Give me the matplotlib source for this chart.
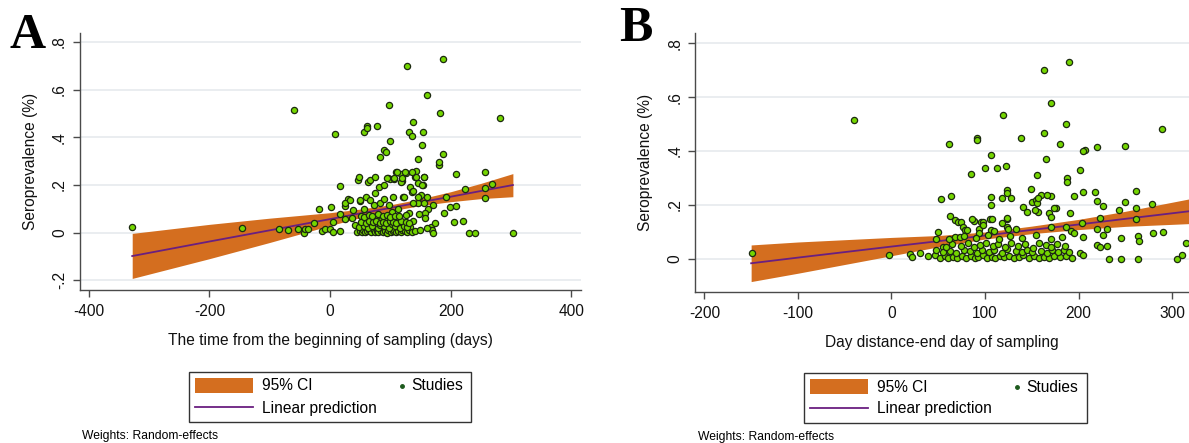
import matplotlib.pyplot as plt
from matplotlib.patches import Rectangle
from matplotlib.lines import Line2D

W, H = 1189, 443

# panel A: time from the beginning of sampling (days), seroprevalence
studies_a = [
    (-328, 0.022), (-146, 0.020), (-84, 0.017), (-70, 0.011), (-60, 0.515), (-54, 0.014),
    (-44, 0.0), (-41, 0.017), (-36, 0.017), (-27, 0.039), (-18, 0.100), (-14, 0.008),
    (-9, 0.017), (1, 0.106), (0, 0.017), (4, 0.003), (5, 0.046), (8, 0.413), (16, 0.197),
    (16, 0.078), (16, 0.008), (25, 0.113), (25, 0.056), (30, 0.143), (46, 0.221), (48, 0.232),
    (50, 0.131), (56, 0.424), (61, 0.448), (61, 0.438), (63, 0.214), (66, 0.221), (75, 0.235),
    (78, 0.448), (83, 0.316), (89, 0.347), (92, 0.337), (97, 0.536), (100, 0.386), (81, 0.193),
    (89, 0.200), (96, 0.231), (100, 0.225), (106, 0.225), (110, 0.255), (118, 0.246),
    (119, 0.217), (125, 0.249), (127, 0.700), (130, 0.421), (135, 0.406), (138, 0.464),
    (146, 0.310), (143, 0.260), (141, 0.235), (146, 0.207), (154, 0.424), (153, 0.369),
    (156, 0.235), (154, 0.199), (160, 0.579), (180, 0.285), (181, 0.298), (183, 0.502),
    (187, 0.331), (187, 0.730), (192, 0.151), (189, 0.084), (199, 0.106), (206, 0.043),
    (209, 0.246), (209, 0.113), (220, 0.049), (224, 0.182), (230, 0.0), (240, 0.0),
    (256, 0.255), (256, 0.187), (256, 0.145), (268, 0.204), (282, 0.481), (303, 0.0),
    (148, 0.151), (150, 0.160), (170, 0.115), (162, 0.100), (157, 0.081), (167, 0.022),
    (169, 0.011), (170, 0.0), (174, 0.042), (146, 0.126),
    (25, 0.123), (33, 0.137), (38, 0.095), (37, 0.062), (41, 0.032), (49, 0.137), (51, 0.072),
    (52, 0.025), (57, 0.098), (60, 0.151), (61, 0.060), (66, 0.137), (67, 0.030), (72, 0.116),
    (75, 0.168), (78, 0.060), (83, 0.125), (85, 0.054), (90, 0.141), (92, 0.060), (98, 0.116),
    (102, 0.087), (111, 0.060), (113, 0.100), (117, 0.213), (120, 0.228), (121, 0.150),
    (122, 0.040), (130, 0.081), (132, 0.190), (135, 0.170), (137, 0.123), (138, 0.050),
    (142, 0.235), (145, 0.151), (148, 0.080), (152, 0.200), (155, 0.235), (156, 0.123),
    (158, 0.060), (161, 0.151), (104, 0.151), (123, 0.151), (137, 0.176), (94, 0.230),
    (106, 0.230), (111, 0.255), (124, 0.255), (136, 0.255),
    (45, 0.002), (50, 0.008), (53, 0.004), (55, 0.013), (58, 0.001), (62, 0.006), (65, 0.010),
    (68, 0.002), (72, 0.011), (74, 0.004), (77, 0.008), (80, 0.001), (84, 0.006), (86, 0.023),
    (88, 0.003), (91, 0.009), (94, 0.0), (96, 0.012), (99, 0.025), (101, 0.004), (104, 0.008),
    (106, 0.011), (109, 0.002), (112, 0.007), (114, 0.025), (117, 0.003), (120, 0.010),
    (124, 0.005), (127, 0.004), (130, 0.012), (133, 0.025), (136, 0.003), (140, 0.008),
    (149, 0.011), (160, 0.020),
    (48, 0.022), (57, 0.030), (63, 0.020), (70, 0.028), (79, 0.018), (83, 0.033), (90, 0.030),
    (97, 0.020), (103, 0.035), (108, 0.028), (116, 0.018), (122, 0.030), (128, 0.022),
    (52, 0.045), (59, 0.040), (64, 0.048), (71, 0.043), (76, 0.050), (82, 0.040), (88, 0.046),
    (93, 0.041), (99, 0.048), (105, 0.045), (110, 0.040), (118, 0.048), (126, 0.044),
    (131, 0.041),
    (56, 0.065), (64, 0.075), (70, 0.068), (80, 0.078), (87, 0.070), (95, 0.075), (100, 0.065),
    (107, 0.072), (115, 0.068), (126, 0.075),
]
fit_days_a = [-328, -200, -100, 0, 50, 100, 150, 200, 250, 303]
fit_a = [-0.098, -0.037, 0.010, 0.057, 0.081, 0.104, 0.128, 0.151, 0.175, 0.200]
ci_lo_a = [-0.192, -0.109, -0.041, 0.030, 0.063, 0.091, 0.114, 0.130, 0.143, 0.151]
ci_hi_a = [-0.003, 0.035, 0.061, 0.084, 0.099, 0.117, 0.142, 0.172, 0.207, 0.248]

# panel B: day distance to the end day of sampling, seroprevalence
studies_b = [
    (-149, 0.022), (-40, 0.514), (-3, 0.012), (20, 0.017), (22, 0.005), (30, 0.020), (39, 0.010),
    (46, 0.014), (48, 0.032), (48, 0.074), (50, 0.100), (53, 0.220), (55, 0.045), (62, 0.425),
    (64, 0.233), (63, 0.158), (68, 0.143), (71, 0.138), (74, 0.137), (76, 0.118), (79, 0.108),
    (81, 0.108), (68, 0.080), (73, 0.079), (85, 0.315), (88, 0.141), (91, 0.450), (91, 0.441),
    (94, 0.109), (94, 0.094), (96, 0.138), (98, 0.136), (98, 0.124), (100, 0.337), (106, 0.230),
    (106, 0.385), (106, 0.198), (105, 0.146), (106, 0.106), (110, 0.104), (119, 0.535),
    (122, 0.344), (118, 0.225), (123, 0.254), (124, 0.243), (128, 0.225), (118, 0.134),
    (123, 0.149), (123, 0.117), (125, 0.111), (133, 0.111), (138, 0.448), (141, 0.193),
    (149, 0.260), (150, 0.211), (154, 0.218), (156, 0.205), (156, 0.310), (157, 0.175),
    (163, 0.700), (163, 0.466), (165, 0.370), (160, 0.237), (157, 0.224), (171, 0.580),
    (170, 0.233), (168, 0.169), (170, 0.156), (170, 0.117), (176, 0.187), (180, 0.426),
    (187, 0.500), (190, 0.730), (188, 0.298), (188, 0.284), (191, 0.168), (187, 0.117),
    (192, 0.104), (195, 0.094), (195, 0.234), (201, 0.330), (205, 0.249), (207, 0.404),
    (204, 0.131), (205, 0.079), (201, 0.020), (205, 0.013), (217, 0.246), (220, 0.414),
    (220, 0.214), (226, 0.196), (223, 0.150), (220, 0.112), (230, 0.109), (226, 0.088),
    (220, 0.051), (223, 0.042), (230, 0.047), (232, 0.0), (243, 0.180), (245, 0.078),
    (245, 0.0), (250, 0.420), (250, 0.210), (261, 0.253), (261, 0.187), (261, 0.146),
    (263, 0.084), (265, 0.067), (264, 0.0), (278, 0.204), (279, 0.097), (289, 0.482),
    (290, 0.100), (305, 0.0), (311, 0.012), (315, 0.058), (113, 0.338), (205, 0.400),
    (166, 0.236), (174, 0.190), (145, 0.175), (153, 0.180), (124, 0.150), (107, 0.147),
    (86, 0.146),
    (52, 0.004), (57, 0.010), (60, 0.002), (66, 0.008), (70, 0.001), (75, 0.011), (80, 0.004),
    (85, 0.009), (89, 0.001), (93, 0.006), (98, 0.012), (102, 0.003), (107, 0.008),
    (111, 0.002), (116, 0.011), (120, 0.005), (126, 0.009), (131, 0.002), (136, 0.007),
    (141, 0.012), (147, 0.004), (152, 0.010), (158, 0.002), (163, 0.008), (168, 0.003),
    (174, 0.011), (180, 0.005), (186, 0.009), (193, 0.003),
    (55, 0.025), (63, 0.030), (69, 0.022), (78, 0.033), (84, 0.027), (91, 0.021), (97, 0.034),
    (104, 0.026), (110, 0.031), (118, 0.022), (124, 0.035), (133, 0.027), (139, 0.023),
    (145, 0.033), (150, 0.025), (160, 0.030), (166, 0.021), (172, 0.034), (178, 0.026),
    (184, 0.031), (190, 0.024),
    (58, 0.045), (65, 0.055), (74, 0.048), (82, 0.058), (88, 0.042), (95, 0.052), (101, 0.060),
    (108, 0.046), (114, 0.055), (121, 0.043), (128, 0.058), (135, 0.047), (143, 0.053),
    (151, 0.041), (158, 0.057), (165, 0.049), (171, 0.044), (177, 0.056), (185, 0.047),
    (62, 0.072), (77, 0.085), (90, 0.078), (103, 0.088), (115, 0.074), (127, 0.083),
    (140, 0.076), (155, 0.087), (170, 0.072), (182, 0.081),
]
fit_days_b = [-150, -100, 0, 50, 100, 150, 200, 250, 330]
fit_b = [-0.017, 0.004, 0.045, 0.065, 0.086, 0.107, 0.127, 0.148, 0.181]
ci_lo_b = [-0.085, -0.054, 0.011, 0.044, 0.073, 0.093, 0.108, 0.120, 0.132]
ci_hi_b = [0.051, 0.062, 0.079, 0.086, 0.099, 0.121, 0.146, 0.176, 0.230]

yticks_a = [-0.2, 0, 0.2, 0.4, 0.6, 0.8]
ytick_labels_a = ['-.2', '0', '.2', '.4', '.6', '.8']
yticks_b = [0, 0.2, 0.4, 0.6, 0.8]
ytick_labels_b = ['0', '.2', '.4', '.6', '.8']
xticks_a = [-400, -200, 0, 200, 400]
xticks_b = [-200, -100, 0, 100, 200, 300]

CI_COL = '#d46e1f'
LINE_COL = '#6a1f80'
DOT_FACE = '#74d600'
DOT_EDGE = '#1c2a10'
AX_COL = '#4a4a4a'
GRID_COL = '#e6eaee'
FS = 11.2

plt.rcParams['font.family'] = ['Liberation Sans', 'DejaVu Sans']
plt.rcParams['axes.unicode_minus'] = False

fig = plt.figure(figsize=(W / 100, H / 100), dpi=100)


def px_box(x0, y0, x1, y1):  # pixel box (top-left origin) -> figure fraction rect
    return [x0 / W, 1 - y1 / H, (x1 - x0) / W, (y1 - y0) / H]


def fx(x):
    return x / W


def fy(y):
    return 1 - y / H


def panel(rect, studies, fit_days, fit, lo, hi, xlim, ylim, xticks, yticks, ylabels, xlabel, ylab_x):
    ax = fig.add_axes(rect)
    ax.set_xlim(*xlim)
    ax.set_ylim(*ylim)
    for t in yticks:
        ax.axhline(t, color=GRID_COL, lw=1.2, zorder=0)
    ax.fill_between(fit_days, lo, hi, color=CI_COL, lw=0, zorder=1)
    ax.plot(fit_days, fit, color=LINE_COL, lw=1.3, zorder=2)
    xs = [p[0] for p in studies]
    ys = [p[1] for p in studies]
    ax.scatter(xs, ys, s=20, c=DOT_FACE, edgecolors=DOT_EDGE, linewidths=0.9, zorder=3)
    for s in ['top', 'right']:
        ax.spines[s].set_visible(False)
    for s in ['left', 'bottom']:
        ax.spines[s].set_color(AX_COL)
        ax.spines[s].set_linewidth(1.0)
    ax.set_xticks(xticks)
    ax.set_yticks(yticks)
    ax.set_yticklabels(ylabels, rotation=90, va='center')
    ax.tick_params(axis='both', length=5, width=1, color=AX_COL, labelsize=FS, labelcolor='#111111')
    ax.tick_params(axis='y', pad=4)
    ax.tick_params(axis='x', pad=5)
    ax.set_xlabel(xlabel, fontsize=FS, color='#111111')
    ax.xaxis.set_label_coords(0.5, -0.195)
    ax.xaxis.label.set_va('center')
    ax.set_ylabel('Seroprevalence (%)', fontsize=FS, color='#111111')
    ax.yaxis.set_label_coords(ylab_x, 0.5)
    ax.yaxis.label.set_va('center')
    return ax


ax_a = panel(px_box(79.6, 33, 581, 290), studies_a, fit_days_a, fit_a, ci_lo_a, ci_hi_a,
             (-415.2, 415.9), (-0.2405, 0.838), xticks_a, yticks_a, ytick_labels_a,
             'The time from the beginning of sampling (days)', -0.098)
ax_b = panel(px_box(695, 33.3, 1189, 291.7), studies_b, fit_days_b, fit_b, ci_lo_b, ci_hi_b,
             (-210, 318), (-0.1226, 0.837), xticks_b, yticks_b, ytick_labels_b,
             'Day distance-end day of sampling', -0.101)


def legend_box(x0, y0, x1, y1):
    fig.patches.append(Rectangle((fx(x0), fy(y1)), fx(x1) - fx(x0), fy(y0) - fy(y1),
                                 transform=fig.transFigure, fill=False, ec='#333333', lw=1.0))
    fig.patches.append(Rectangle((fx(x0 + 6), fy(y0 + 21)), fx(58), fy(0) - fy(15),
                                 transform=fig.transFigure, color=CI_COL, lw=0))
    fig.lines.append(Line2D([fx(x0 + 6), fx(x0 + 64)], [fy(y0 + 35), fy(y0 + 35)],
                            transform=fig.transFigure, color=LINE_COL, lw=1.3))
    fig.text(fx(x0 + 73), fy(y0 + 14), '95% CI', fontsize=FS, va='center', ha='left')
    fig.text(fx(x0 + 73), fy(y0 + 36), 'Linear prediction', fontsize=FS, va='center', ha='left')
    fig.lines.append(Line2D([fx(x0 + 213)], [fy(y0 + 14)], transform=fig.transFigure,
                            marker='o', ms=2.5, color='#1d5a1d', lw=0))
    fig.text(fx(x0 + 222), fy(y0 + 14), 'Studies', fontsize=FS, va='center', ha='left')


legend_box(189, 372, 471, 422)
legend_box(804, 373, 1087, 423)

fig.text(fx(82), fy(436), 'Weights: Random-effects', fontsize=8.7, va='center', ha='left')
fig.text(fx(698), fy(437), 'Weights: Random-effects', fontsize=8.7, va='center', ha='left')

fig.text(fx(10), fy(36), 'A', fontsize=36, fontweight='bold', family='Liberation Serif',
         va='center', ha='left')
fig.text(fx(619), fy(29), 'B', fontsize=36, fontweight='bold', family='Liberation Serif',
         va='center', ha='left')

fig.savefig('out.png', dpi=100, facecolor='white')
